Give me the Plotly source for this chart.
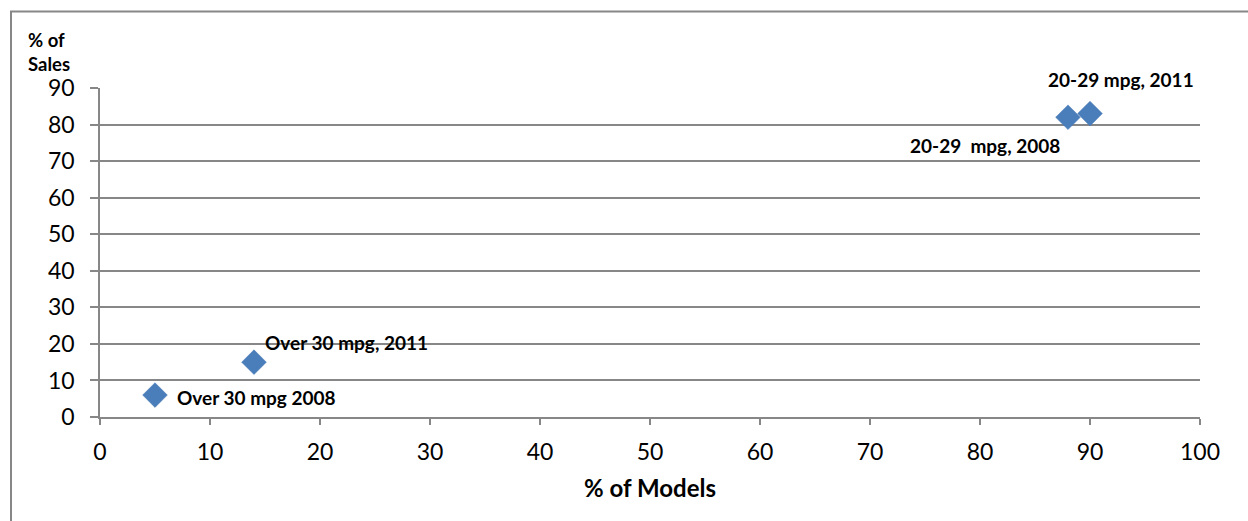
import plotly.graph_objects as go

# Share of models vs share of sales by fuel-economy class
labels = ["Over 30 mpg 2008", "Over 30 mpg, 2011", "20-29\u00a0 mpg, 2008", "20-29 mpg, 2011"]
pct_models = [5, 14, 88, 90]
pct_sales = [6, 15, 82, 83]

x_ticks = [0, 10, 20, 30, 40, 50, 60, 70, 80, 90, 100]
y_ticks = [0, 10, 20, 30, 40, 50, 60, 70, 80, 90]

FONT = "Lato, 'Liberation Sans', sans-serif"
GRID = "#878787"
MARK = "#4a7ebb"

fig = go.Figure()
fig.add_trace(go.Scatter(
    x=pct_models, y=pct_sales, mode="markers",
    marker=dict(symbol="diamond", size=19, color=MARK,
                line=dict(width=0.5, color="#4576b3")),
    hoverinfo="x+y", showlegend=False,
))

# label placement (anchor, x offset, y offset in px) per point
placement = [
    ("left", 20, -2),
    ("left", 9, 20),
    ("right", -6, -28),
    ("center", 31, 34),
]
for lab, xv, yv, (anc, dx, dy) in zip(labels, pct_models, pct_sales, placement):
    fig.add_annotation(x=xv, y=yv, text=f"<b>{lab}</b>", showarrow=False,
                       xanchor=anc, yanchor="middle", xshift=dx, yshift=dy,
                       font=dict(family=FONT, size=19, color="#000000"))

# y axis title above the axis
fig.add_annotation(xref="paper", yref="paper", x=-0.046, y=1.110,
                   text="<b>% of<br>Sales</b>", showarrow=False,
                   xanchor="center", yanchor="middle", align="left",
                   font=dict(family=FONT, size=18.5, color="#000000"))

# outer chart border
fig.add_shape(type="rect", xref="paper", yref="paper",
              x0=-0.0809, x1=1.05, y0=-0.35, y1=1.2325,
              line=dict(color=GRID, width=2), fillcolor="rgba(0,0,0,0)")

fig.update_layout(
    width=1248, height=521,
    margin=dict(l=100, r=48, t=88, b=104),
    paper_bgcolor="white", plot_bgcolor="white",
    font=dict(family=FONT, size=23, color="#000000"),
    xaxis=dict(range=[0, 100], tickvals=x_ticks, ticktext=[str(v) for v in x_ticks],
               showgrid=False, zeroline=False, showline=True, linecolor=GRID, linewidth=1.5,
               ticks="outside", ticklen=6, tickcolor=GRID, tickwidth=1.5,
               ticklabelstandoff=8,
               title=dict(text="<b>% of Models</b>", font=dict(family=FONT, size=24), standoff=16)),
    yaxis=dict(range=[0, 90], tickvals=y_ticks, ticktext=[str(v) for v in y_ticks],
               showgrid=True, gridcolor=GRID, gridwidth=1.5, zeroline=False,
               showline=True, linecolor=GRID, linewidth=1.5,
               ticks="outside", ticklen=8, tickcolor=GRID, tickwidth=1.5,
               ticklabelstandoff=11),
)

fig.write_html("out.html")
